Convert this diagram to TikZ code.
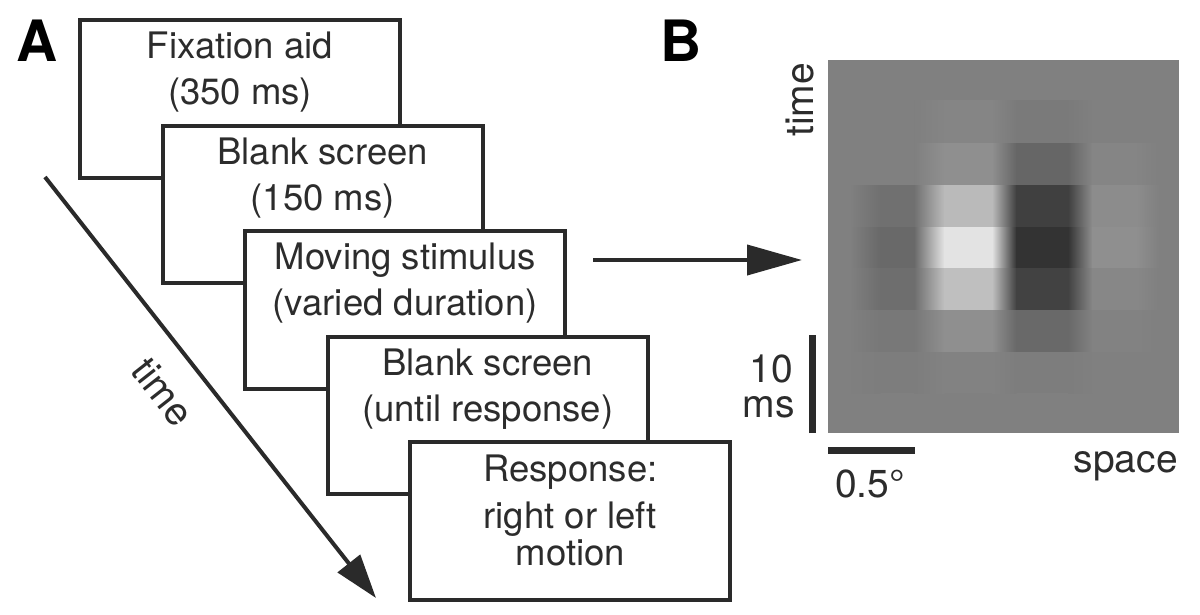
\documentclass[tikz,border=0pt]{standalone}
\usepackage{fontspec}
\setmainfont{TeX Gyre Heros}
\usetikzlibrary{arrows.meta,calc}
\definecolor{ink}{HTML}{2A2A2A}
\definecolor{txt}{HTML}{2C2C2C}
% one band of the space-time filter: y0 y1 and four grey levels (percent white)
\newcommand\hmrow[6]{%
  \shade[left color=white!50!black,right color=white!#3!black] (850,#1) rectangle (880.5,#2);
  \fill[white!#3!black] (880,#1) rectangle (914.5,#2);
  \shade[left color=white!#3!black,right color=white!#4!black] (914,#1) rectangle (944.5,#2);
  \fill[white!#4!black] (944,#1) rectangle (992.5,#2);
  \shade[left color=white!#4!black,right color=white!#5!black] (992,#1) rectangle (1016.5,#2);
  \fill[white!#5!black] (1016,#1) rectangle (1068.5,#2);
  \shade[left color=white!#5!black,right color=white!#6!black] (1068,#1) rectangle (1092.5,#2);
  \fill[white!#6!black] (1092,#1) rectangle (1136.5,#2);
  \shade[left color=white!#6!black,right color=white!50!black] (1136,#1) rectangle (1160,#2);
}
\begin{document}
\begin{tikzpicture}[x=1pt,y=-1pt,
  box/.style={draw=ink,line width=4pt,fill=white,minimum width=320pt,minimum height=157.5pt,inner sep=0pt,outer sep=0pt},
  lbl/.style={text=txt,font=\fontsize{36.5}{42}\selectfont,anchor=base,inner sep=0pt},
  blbl/.style={text=txt,font=\fontsize{39}{46}\selectfont,inner sep=0pt},
  panel/.style={text=black,font=\fontsize{57}{60}\selectfont\bfseries,anchor=base,inner sep=0pt},
  bar/.style={draw=ink,line width=7pt},
  arr/.style={draw=ink,line width=4pt}]
\useasboundingbox (0,0) rectangle (1200,614);
\fill[white] (0,0) rectangle (1200,614);

% panel labels
\node[panel] (pA) at (37.5,61) {A};
\node[panel] (pB) at (681,61) {B};

% stacked screens
\node[box] (b1) at (240,98.75) {};
\node[lbl] (t1a) at ($(b1.north)+(0,38.5)$) {Fixation aid};
\node[lbl] (t1b) at ($(b1.north)+(0,84.5)$) {(350 ms)};

\node[box] (b2) at (322.6,204.25) {};
\node[lbl] (t2a) at ($(b2.north)+(0,38.5)$) {Blank screen};
\node[lbl] (t2b) at ($(b2.north)+(0,84.5)$) {(150 ms)};

\node[box] (b3) at (405.2,309.75) {};
\node[lbl] (t3a) at ($(b3.north)+(0,38.5)$) {Moving stimulus};
\node[lbl] (t3b) at ($(b3.north)+(0,84.5)$) {(varied duration)};

\node[box] (b4) at (487.8,415.25) {};
\node[lbl] (t4a) at ($(b4.north)+(0,38.5)$) {Blank screen};
\node[lbl] (t4b) at ($(b4.north)+(0,84.5)$) {(until response)};

\node[box] (b5) at (570.4,520.75) {};
\node[lbl] (t5a) at ($(b5.north)+(0,39.5)$) {Response:};
\node[lbl] (t5b) at ($(b5.north)+(0,86)$) {right or left};
\node[lbl] (t5c) at ($(b5.north)+(0,123.5)$) {motion};

% time arrow
\coordinate (ts) at (45,177);
\coordinate (te) at (376,598);
\draw[arr,-{Triangle[length=44pt,width=28pt]}] (ts) -- (te);
\node[blbl,rotate=-51.8] (tA) at (163,392) {time};

% space-time filter image
\node[fill=white!50!black,minimum width=351pt,minimum height=373pt,inner sep=0pt,outer sep=0pt] (img) at (1003.5,246.5) {};
\hmrow{100}{143}{50}{52}{48}{50}
\hmrow{143}{185}{50}{56}{40}{52}
\hmrow{185}{227}{44}{73}{25}{55}
\hmrow{227}{268}{41}{89}{20}{56}
\hmrow{268}{310}{43}{75}{26}{53}
\hmrow{310}{352}{47}{56}{41}{51}
\hmrow{352}{393}{49}{51}{49}{50}

% arrow from the stimulus to the filter
\coordinate (as) at (593,260);
\draw[arr,-{Triangle[length=55pt,width=30pt]},shorten >=26pt] (as) -- (as -| img.west);

% scale bars and labels
\draw[bar] ([xshift=-15.5pt]img.south west) -- ([xshift=-15.5pt,yshift=98pt]img.south west);
\draw[bar] ([yshift=-17pt]img.south west) -- ([xshift=87pt,yshift=-17pt]img.south west);
\node[blbl,anchor=base east] (l10) at (793,382) {10};
\node[blbl,anchor=base east] (lms) at (795,417) {ms};
\node[blbl,anchor=base west] (ldeg) at (835,497) {0.5°};
\node[blbl,anchor=base east] (lsp) at (1178,472) {space};
\node[blbl,anchor=base west,rotate=90] (ltB) at (813,137) {time};
\end{tikzpicture}
\end{document}
